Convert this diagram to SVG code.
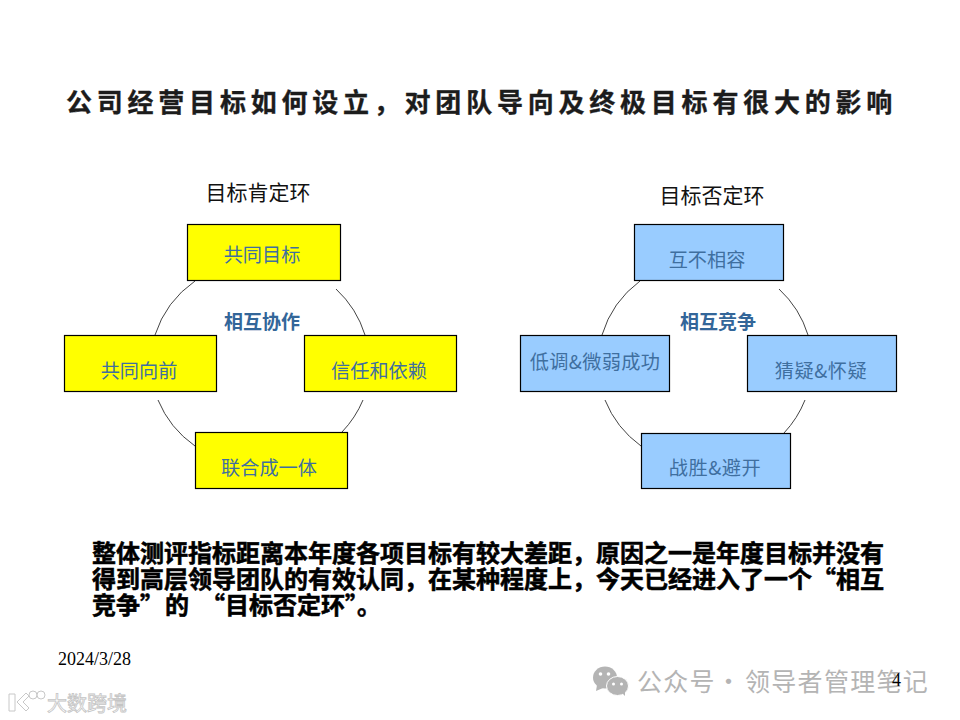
<svg xmlns="http://www.w3.org/2000/svg" width="960" height="720" viewBox="0 0 960 720">
<style>
text{font-family:"Liberation Sans","Noto Sans CJK SC",sans-serif}
.cjk{font-family:"Noto Sans CJK SC","Liberation Sans",sans-serif}
.y{fill:#ffff00;stroke:#000;stroke-width:1.2}
.b{fill:#99ccff;stroke:#000;stroke-width:1.2}
.l{font-size:19.2px;fill:#3f6f9f;text-anchor:middle}
.h{font-size:21px;fill:#111;text-anchor:middle}
.c{font-size:19px;font-weight:700;fill:#336699;text-anchor:middle}
.t{font-size:26px;font-weight:700;fill:#1c1c1c;stroke:#1c1c1c;stroke-width:.35;letter-spacing:4.78px}
.p{font-size:24px;font-weight:700;fill:#000;stroke:#000;stroke-width:.55}
.a{fill:none;stroke:#444;stroke-width:1}
.d{font-family:"Liberation Serif",serif;font-size:18px;fill:#000}
.w{font-size:25px;fill:#b4b4b4;letter-spacing:1.3px}
.m{fill:#fff;stroke:#c8c8c8;stroke-width:1}
</style>
<rect width="960" height="720" fill="#fff"/>
<text id="title" class="t cjk" x="66" y="112">公司经营目标如何设立，对团队导向及终极目标有很大的影响</text>
<g id="connectors">
<path class="a" d="M195 281A108 105 0 0 0 155 335"/>
<path class="a" d="M336 289A108 105 0 0 1 365 335"/>
<path class="a" d="M158 400A108 105 0 0 0 195 446"/>
<path class="a" d="M363 400A108 105 0 0 1 342 432"/>
<path class="a" d="M640 281A108 105 0 0 0 602 335"/>
<path class="a" d="M779 289A108 105 0 0 1 808 335"/>
<path class="a" d="M605 400A108 105 0 0 0 641 446"/>
<path class="a" d="M805 400A108 105 0 0 1 784 433"/>
</g>
<text id="heading-positive" class="h cjk" x="258" y="199.500">目标肯定环</text>
<text id="center-positive" class="c cjk" x="262" y="329">相互协作</text>
<g id="n-gongtong"><rect class="y" x="187.5" y="224.5" width="153" height="56"/><text class="l cjk" x="262" y="262">共同目标</text></g>
<g id="n-xiangqian"><rect class="y" x="64.5" y="335.5" width="152" height="56"/><text class="l cjk" x="139" y="378">共同向前</text></g>
<g id="n-xinren"><rect class="y" x="304.5" y="335.5" width="152" height="56"/><text class="l cjk" x="379" y="378">信任和依赖</text></g>
<g id="n-lianhe"><rect class="y" x="195.5" y="432.5" width="152" height="56"/><text class="l cjk" x="269" y="475">联合成一体</text></g>
<text id="heading-negative" class="h cjk" x="712" y="202.500">目标否定环</text>
<text id="center-negative" class="c cjk" x="718" y="329">相互竞争</text>
<g id="n-hubu"><rect class="b" x="634.5" y="224.5" width="149" height="56"/><text class="l cjk" x="707" y="267">互不相容</text></g>
<g id="n-didiao"><rect class="b" x="520.5" y="335.5" width="149" height="56"/><text class="l cjk" x="595" y="369" letter-spacing=".3">低调&amp;微弱成功</text></g>
<g id="n-caiyi"><rect class="b" x="747.5" y="335.5" width="149" height="56"/><text class="l cjk" x="821" y="378" letter-spacing=".5">猜疑&amp;怀疑</text></g>
<g id="n-zhansheng"><rect class="b" x="641.5" y="433.5" width="149" height="55"/><text class="l cjk" x="715" y="475" letter-spacing=".5">战胜&amp;避开</text></g>
<g id="body">
<text class="p cjk" x="92" y="562">整体测评指标距离本年度各项目标有较大差距，原因之一是年度目标并没有</text>
<text class="p cjk" x="92" y="588">得到高层领导团队的有效认同，在某种程度上，今天已经进入了一个“相互</text>
<text class="p cjk" x="92" y="614">竞争”</text>
<text class="p cjk" x="165" y="614">的</text>
<text class="p cjk" x="201" y="614">“目标否定环”</text>
<text class="p cjk" x="357" y="614">。</text>
</g>
<text id="date" class="d" x="58" y="665">2024/3/28</text>
<g id="watermark-wechat" fill="#b4b4b4">
<ellipse cx="605" cy="677.500" rx="12" ry="11"/>
<path d="M597 685l-1 6 7-3z"/>
<ellipse cx="617.500" cy="686" rx="11" ry="9.500" stroke="#fff"/>
<path d="M622 693l3 3 0-5z"/>
<circle cx="600.500" cy="674" r="1.800" fill="#fff"/><circle cx="608.500" cy="674" r="1.800" fill="#fff"/>
<circle cx="613.500" cy="684" r="1.500" fill="#fff"/><circle cx="621.500" cy="684" r="1.500" fill="#fff"/>
<text class="w cjk" x="637" y="691">公众号</text>
<text class="w cjk" x="716" y="691">·</text>
<text class="w cjk" x="745" y="691">领导者管理笔记</text>
</g>
<text id="page" class="d" x="892" y="686">4</text>
<g id="watermark-brand">
<path class="m" d="M9 694h6v17h-6zM17 702l9-9 3 3-6 6 6 6-3 3z"/>
<circle class="m" cx="33" cy="695" r="4"/><circle class="m" cx="41" cy="695" r="4"/>
<text class="cjk" x="47" y="711" font-size="20" fill="#fff" stroke="#c4c4c4" stroke-width=".8">大数跨境</text>
</g>
</svg>
